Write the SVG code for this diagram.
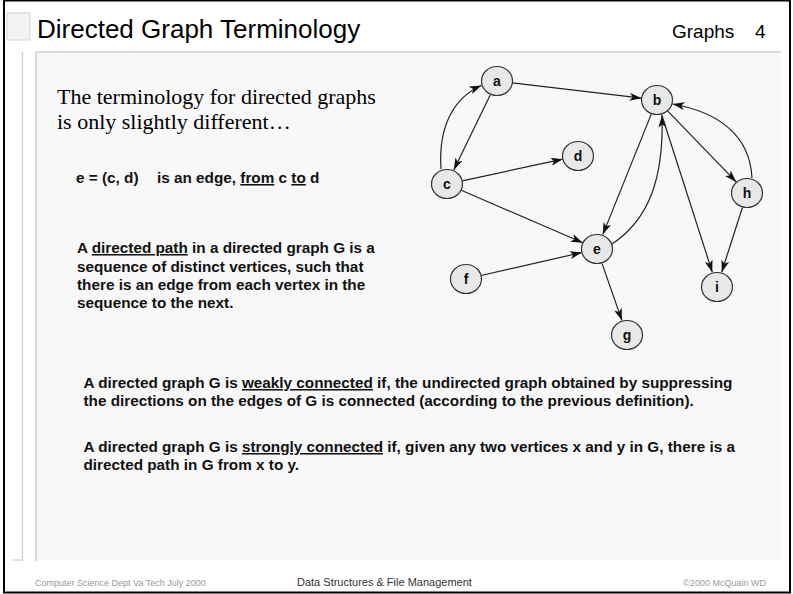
<svg xmlns="http://www.w3.org/2000/svg" width="793" height="594" viewBox="0 0 793 594">
<style>
.title{font-family:"Liberation Sans",Arial,sans-serif;font-size:26px;fill:#000}
.hdr{font-family:"Liberation Sans",Arial,sans-serif;font-size:19px;fill:#000}
.serif{font-family:"Liberation Serif","Times New Roman",serif;font-size:22px;fill:#000}
.body{font-family:"Liberation Sans",Arial,sans-serif;font-size:15.3px;font-weight:bold;fill:#111}
.u{text-decoration:underline}
.foot{font-family:"Liberation Sans",Arial,sans-serif;font-size:9px;fill:#9a9a9a}
.footm{font-family:"Liberation Sans",Arial,sans-serif;font-size:11px;fill:#333}
.node ellipse{fill:#e8e8e8;stroke:#333;stroke-width:1.2}
.node text{font-family:"Liberation Sans",Arial,sans-serif;font-size:14px;font-weight:bold;fill:#111;text-anchor:middle}
.edges path{fill:none;stroke:#222;stroke-width:1.2;marker-end:url(#arr)}
</style>
<defs>
<marker id="arr" markerUnits="userSpaceOnUse" viewBox="0 0 12 8" refX="12" refY="4" markerWidth="12" markerHeight="8" orient="auto">
<path d="M0,0 L12,4 L0,8 L3,4 Z" fill="#111"/>
</marker>
</defs>
<rect x="0" y="0" width="793" height="594" fill="#fff"/>
<!-- frame -->
<g id="frame">
<rect x="7" y="13" width="23" height="27" fill="#f3f3f3" stroke="#d4d4d4" stroke-width="1"/>
<rect x="36" y="52" width="745" height="508" fill="#f8f8f8"/>
<line x1="36" y1="52" x2="781" y2="52" stroke="#cfcfcf" stroke-width="1.3"/>
<line x1="36" y1="52" x2="36" y2="561" stroke="#cfcfcf" stroke-width="1.6"/>
<line x1="22.5" y1="52" x2="22.5" y2="560" stroke="#d0d0d0" stroke-width="1.3"/>
<line x1="13" y1="560" x2="23" y2="560" stroke="#d0d0d0" stroke-width="1.3"/>
<rect x="4" y="0.5" width="786" height="592" fill="none" stroke="#000" stroke-width="2"/>
</g>
<!-- header -->
<g id="header">
<text class="title" x="37" y="37.5">Directed Graph Terminology</text>
<text class="hdr" x="672" y="37.5">Graphs</text>
<text class="hdr" x="755" y="37.5">4</text>
</g>
<!-- texts -->
<g id="texts">
<text class="serif" x="57" y="104">The terminology for directed graphs</text>
<text class="serif" x="57" y="129">is only slightly different…</text>
<text class="body" x="76" y="183">e = (c, d)</text>
<text class="body" x="157" y="183">is an edge, <tspan class="u">from</tspan> c <tspan class="u">to</tspan> d</text>
<text class="body" x="77" y="253">A <tspan class="u">directed path</tspan> in a directed graph G is a</text>
<text class="body" x="77" y="271.5">sequence of distinct vertices, such that</text>
<text class="body" x="77" y="290">there is an edge from each vertex in the</text>
<text class="body" x="77" y="308.3">sequence to the next.</text>
<text class="body" x="83.5" y="388">A directed graph G is <tspan class="u">weakly connected</tspan> if, the undirected graph obtained by suppressing</text>
<text class="body" x="83.5" y="405.5">the directions on the edges of G is connected (according to the previous definition).</text>
<text class="body" x="83.5" y="452">A directed graph G is <tspan class="u">strongly connected</tspan> if, given any two vertices x and y in G, there is a</text>
<text class="body" x="83.5" y="470">directed path in G from x to y.</text>
</g>
<!-- connectors -->
<g id="connectors" class="edges">
<path d="M512.4,82.8 L641.6,98.2"/>
<path d="M490.2,95 L453.8,170"/>
<path d="M441,169 C438,125 455,97 481.5,85.5"/>
<path d="M462.2,180.8 L562.8,159.2"/>
<path d="M461.2,190.2 L582.8,242.8"/>
<path d="M481.1,275.5 L581.9,252.5"/>
<path d="M602.1,263.6 L621.9,320.4"/>
<path d="M651.2,114.4 L602.8,234.6"/>
<path d="M612,244 C648,220 664,180 662,115.5"/>
<path d="M661.7,114.8 L712.3,272.2"/>
<path d="M667.8,111.1 L736.2,181.9"/>
<path d="M752,178 C750,135 718,112 672.5,104"/>
<path d="M742.3,207.8 L721.7,272.2"/>
</g>
<!-- nodes -->
<g id="node-a" class="node"><ellipse cx="497" cy="81" rx="15.5" ry="14.5"/><text x="497" y="86">a</text></g>
<g id="node-b" class="node"><ellipse cx="657" cy="100" rx="15.5" ry="14.5"/><text x="657" y="105">b</text></g>
<g id="node-c" class="node"><ellipse cx="447" cy="184" rx="15.5" ry="14.5"/><text x="447" y="189">c</text></g>
<g id="node-d" class="node"><ellipse cx="578" cy="156" rx="15.5" ry="14.5"/><text x="578" y="161">d</text></g>
<g id="node-e" class="node"><ellipse cx="597" cy="249" rx="15.5" ry="14.5"/><text x="597" y="254">e</text></g>
<g id="node-f" class="node"><ellipse cx="466" cy="279" rx="15.5" ry="14.5"/><text x="466" y="284">f</text></g>
<g id="node-g" class="node"><ellipse cx="627" cy="335" rx="15.5" ry="14.5"/><text x="627" y="340">g</text></g>
<g id="node-h" class="node"><ellipse cx="747" cy="193" rx="15.5" ry="14.5"/><text x="747" y="198">h</text></g>
<g id="node-i" class="node"><ellipse cx="717" cy="287" rx="15.5" ry="14.5"/><text x="717" y="292">i</text></g>
<!-- footer -->
<g id="footer">
<text class="foot" x="35" y="586">Computer Science Dept Va Tech July 2000</text>
<text class="footm" x="297" y="586">Data Structures &amp; File Management</text>
<text class="foot" x="766" y="586" text-anchor="end">©2000  McQuain WD</text>
</g>
</svg>
